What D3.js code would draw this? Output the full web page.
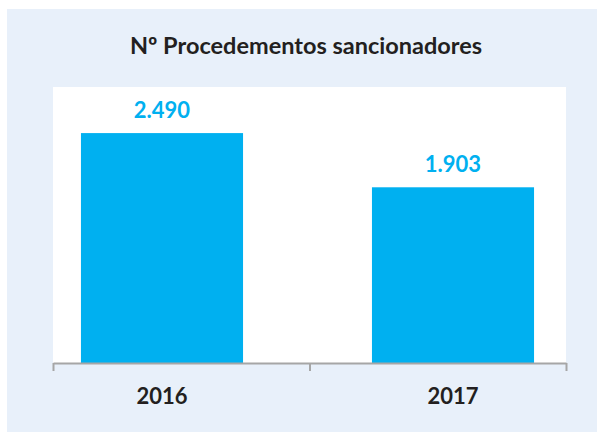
<!DOCTYPE html>
<meta charset="utf-8">
<title>Nº Procedementos sancionadores</title>
<style>
  body { margin: 0; background: #fff; }
  svg { display: block; font-family: Lato, "Open Sans", sans-serif; }
</style>
<svg id="chart" width="597" height="432"></svg>
<script src="https://cdn.jsdelivr.net/npm/d3@7"></script>
<script>
var years = ["2016", "2017"];
var counts = [2490, 1903];
var countLabels = ["2.490", "1.903"];
var titleText = "Nº Procedementos sancionadores";

var svg = d3.select("#chart");
var W = 597, H = 432;

// outer light panel
svg.append("rect")
  .attr("x", 7).attr("y", 9)
  .attr("width", W - 7).attr("height", H - 9)
  .attr("fill", "#e8f0fa");

// white plot area
var plot = {left: 53, right: 566, top: 87, bottom: 363};
svg.append("rect")
  .attr("x", plot.left).attr("y", plot.top)
  .attr("width", plot.right - plot.left)
  .attr("height", plot.bottom - plot.top)
  .attr("fill", "#fff");

svg.append("text")
  .attr("x", 306).attr("y", 54)
  .attr("text-anchor", "middle")
  .attr("font-weight", "bold")
  .attr("font-size", 23.5)
  .attr("fill", "#231f20")
  .text(titleText);

var x = d3.scaleBand()
  .domain(years)
  .range([16.5, 598.5])
  .paddingInner(0.443)
  .paddingOuter(0.2215);

var y = d3.scaleLinear()
  .domain([0, 3000])
  .range([plot.bottom, 86]);

svg.selectAll("rect.bar")
  .data(counts)
  .join("rect")
  .attr("class", "bar")
  .attr("x", (d, i) => x(years[i]))
  .attr("y", d => y(d))
  .attr("width", x.bandwidth())
  .attr("height", d => y(0) - y(d))
  .attr("fill", "#00b0f0");

svg.selectAll("text.val")
  .data(counts)
  .join("text")
  .attr("class", "val")
  .attr("x", (d, i) => x(years[i]) + x.bandwidth() / 2)
  .attr("y", d => y(d) - 15)
  .attr("text-anchor", "middle")
  .attr("font-weight", "bold")
  .attr("font-size", 22)
  .attr("fill", "#00b0f0")
  .text((d, i) => countLabels[i]);

// category axis: ticks sit between the categories
var tickScale = d3.scaleLinear().domain([0, 2]).range([plot.left, plot.right]);
var axis = d3.axisBottom(tickScale)
  .tickValues([0, 1, 2])
  .tickSize(8)
  .tickSizeOuter(0)
  .tickFormat("");
var gAxis = svg.append("g")
  .attr("transform", "translate(0," + plot.bottom + ")")
  .call(axis);
gAxis.selectAll("path, line")
  .attr("stroke", "#a6a6a6")
  .attr("stroke-width", 2);

svg.selectAll("text.cat")
  .data(years)
  .join("text")
  .attr("class", "cat")
  .attr("x", d => x(d) + x.bandwidth() / 2)
  .attr("y", 404)
  .attr("text-anchor", "middle")
  .attr("font-weight", "bold")
  .attr("font-size", 22)
  .attr("fill", "#231f20")
  .text(d => d);
</script>
